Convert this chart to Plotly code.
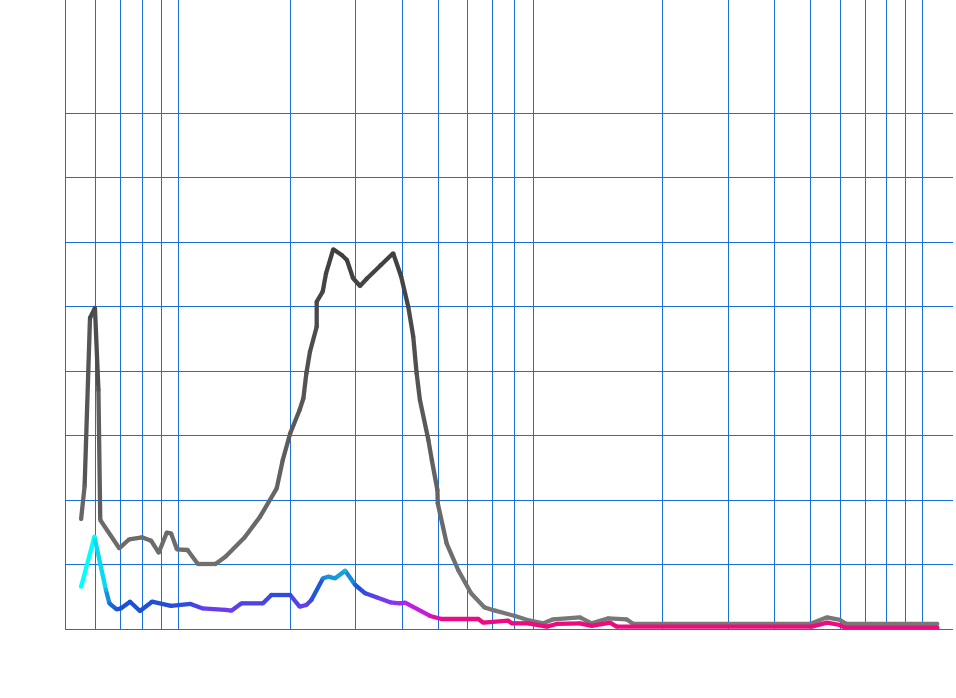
import math
import plotly.graph_objects as go
from plotly.colors import sample_colorscale

# grey series (x on log scale)
grey_x = [5.49, 5.61, 5.80, 5.98, 6.11, 6.18, 6.95, 7.39, 8.0, 8.46, 8.87, 9.32, 9.57,
          9.93, 10.6, 11.3, 12.6, 13.4, 15.1, 16.6, 18.4, 19.1, 20.0, 21.2, 21.7, 22.1,
          22.6, 23.56, 23.56, 24.45, 24.96, 26.1, 27.5, 28.4, 29.5, 30.8, 32.1, 35.0,
          37.8, 39.7, 41.5, 42.8, 43.7, 44.6, 47.0, 48.0, 49.7, 49.8, 52.6, 56.5, 61.2,
          66.4, 71.0, 80.3, 88.1, 95.7, 101.7, 120, 129, 143, 160, 167, 497, 553, 599,
          624, 1093]
grey_y = [1.705, 2.217, 4.822, 4.977, 3.705, 1.690, 1.251, 1.391, 1.422, 1.369, 1.183,
          1.493, 1.484, 1.236, 1.225, 1.008, 1.008, 1.121, 1.422, 1.741, 2.181, 2.620,
          3.034, 3.395, 3.577, 3.964, 4.299, 4.687, 5.074, 5.230, 5.515, 5.887, 5.798,
          5.721, 5.437, 5.318, 5.430, 5.640, 5.825, 5.470, 4.997, 4.532, 3.964, 3.550,
          2.930, 2.620, 2.155, 1.949, 1.329, 0.915, 0.553, 0.336, 0.284, 0.202, 0.129,
          0.088, 0.150, 0.181, 0.088, 0.166, 0.150, 0.078, 0.078, 0.181, 0.140, 0.078,
          0.078]

# coloured series, with a colour value per point
col_x = [5.49, 5.96, 6.40, 6.54, 6.84, 7.03, 7.43, 7.90, 8.51, 9.57, 10.8, 11.6, 13.4,
         13.9, 14.8, 16.9, 17.8, 20.0, 21.2, 22.1, 22.8, 24.5, 25.3, 26.4, 28.1, 29.9,
         31.8, 34.1, 37.1, 39.4, 40.7, 47.5, 51.0, 64.0, 66.0, 77.0, 78.7, 87.2, 97.7,
         103.9, 120, 129, 144.5, 150.6, 503, 553, 599, 618, 1093]
col_y = [0.656, 1.431, 0.605, 0.398, 0.305, 0.321, 0.423, 0.279, 0.423, 0.357, 0.388,
         0.321, 0.295, 0.284, 0.398, 0.398, 0.527, 0.527, 0.346, 0.372, 0.450, 0.786,
         0.811, 0.786, 0.904, 0.682, 0.553, 0.491, 0.414, 0.398, 0.408, 0.202, 0.155,
         0.155, 0.098, 0.129, 0.088, 0.088, 0.036, 0.078, 0.088, 0.047, 0.098, 0.036,
         0.036, 0.098, 0.062, 0.020, 0.020]
col_c = [0.0, 0.0, 0.1, 0.22, 0.27, 0.28, 0.28, 0.28, 0.28, 0.3, 0.32, 0.42, 0.45,
         0.45, 0.38, 0.38, 0.32, 0.32, 0.45, 0.42, 0.35, 0.18, 0.15, 0.15, 0.1, 0.25,
         0.35, 0.42, 0.5, 0.55, 0.6, 0.8, 0.9, 0.95, 0.95, 0.95, 0.95, 0.95, 0.97,
         0.97, 0.97, 0.97, 0.97, 0.97, 0.97, 0.97, 0.97, 0.97, 0.97]

# grid positions
x_grid = [5, 6, 7, 8, 9, 10, 20, 30, 40, 50, 60, 70, 80, 90,
          200, 300, 400, 500, 600, 700, 800, 900, 1000]
y_grid = [0, 1, 2, 3, 4, 5, 6, 7, 8]

grey_scale = [[0, 'rgb(121,121,121)'], [1, 'rgb(62,62,62)']]
col_scale = [[0.0, 'rgb(0,255,255)'], [0.12, 'rgb(20,165,222)'], [0.28, 'rgb(30,80,215)'],
             [0.45, 'rgb(110,60,240)'], [0.6, 'rgb(170,40,240)'], [0.75, 'rgb(210,20,210)'],
             [0.9, 'rgb(235,10,140)'], [1.0, 'rgb(240,10,120)']]
grid_col = '#1a6fd8'
lw = 4.3

fig = go.Figure()


def add_gradient_line(xs, ys, cs, scale, cmax):
    # one short trace per segment so the colour can change along the line
    for i in range(len(xs) - 1):
        c = sample_colorscale(scale, min(1, (cs[i] + cs[i + 1]) / 2 / cmax))[0]
        fig.add_trace(go.Scatter(x=[xs[i], xs[i + 1]], y=[ys[i], ys[i + 1]], mode='lines',
                                 line=dict(color=c, width=lw), hoverinfo='skip'))
    # round off the joints
    fig.add_trace(go.Scatter(x=xs, y=ys, mode='markers', hoverinfo='skip',
                             marker=dict(size=lw, color=cs, colorscale=scale, cmin=0, cmax=cmax,
                                         line=dict(width=0))))


add_gradient_line(grey_x, grey_y, grey_y, grey_scale, 6)
add_gradient_line(col_x, col_y, col_c, col_scale, 1)

fig.update_layout(
    width=956, height=698,
    margin=dict(l=66, r=3, t=0, b=69),
    paper_bgcolor='white', plot_bgcolor='white',
    showlegend=False)

fig.update_xaxes(type='log', range=[math.log10(5), math.log10(5) + 887 / 372.4],
                 tickvals=x_grid, showticklabels=False, ticks='',
                 showgrid=True, gridcolor=grid_col, gridwidth=1.4,
                 showline=True, linecolor=grid_col, linewidth=1.4, zeroline=False)
fig.update_yaxes(range=[0, 629 / 64.5], tickvals=y_grid, showticklabels=False, ticks='',
                 showgrid=True, gridcolor=grid_col, gridwidth=1.4,
                 showline=True, linecolor=grid_col, linewidth=1.4, zeroline=False)

config = {'displayModeBar': False}

# drop the default 8px page margin so the plot sits flush with the window
fig.write_html("out.html", config=config, post_script="document.body.style.margin='0px';")
